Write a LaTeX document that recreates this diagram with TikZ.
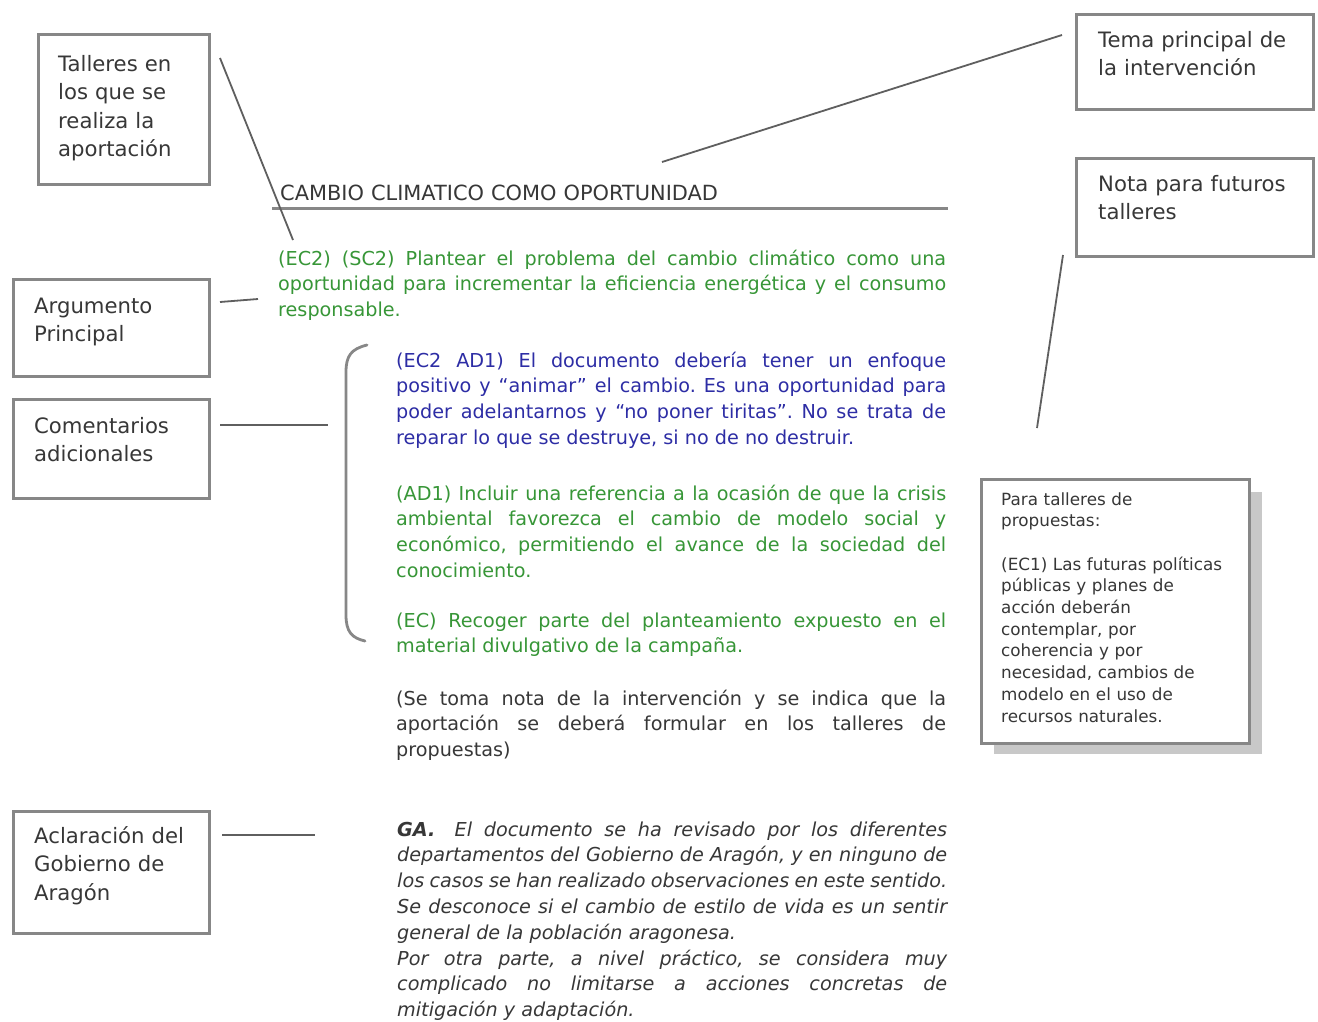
\documentclass[tikz,border=0pt]{standalone}
\usepackage{fontspec}
\setmainfont{DejaVu Sans}
\frenchspacing
\definecolor{boxgray}{RGB}{135,135,135}
\definecolor{linegray}{RGB}{95,95,95}
\definecolor{txtgray}{RGB}{55,55,55}
\definecolor{tgreen}{RGB}{55,150,55}
\definecolor{tblue}{RGB}{45,45,165}
\definecolor{shadowgray}{RGB}{200,200,200}
\tikzset{
  lbox/.style={draw=boxgray, line width=2.6pt, inner sep=0pt, anchor=north west},
  lbltext/.style={font=\fontsize{21.2}{28.5}\selectfont, text=txtgray, anchor=base west, inner sep=0pt, text width=175pt, align=left},
  body/.style={font=\fontsize{19.2}{25.8}\selectfont\frenchspacing, anchor=base west, inner sep=0pt, text width=550pt, align=justify},
  notetext/.style={font=\fontsize{16.8}{21.7}\selectfont, text=txtgray, anchor=base west, inner sep=0pt, text width=240pt, align=left},
  conn/.style={draw=linegray, line width=1.8pt},
  brace/.style={draw=boxgray, line width=2.8pt, line cap=round},
}
\begin{document}
\begin{tikzpicture}[x=1pt,y=-1pt]
\useasboundingbox[fill=white] (0,0) rectangle (1318,1021);

% label boxes
\node[lbox, minimum width=171pt, minimum height=150pt] (tall) at (37,33) {};
\node[lbltext] (tallT) at (58,71) {Talleres en\\los que se\\realiza la\\aportación};
\node[lbox, minimum width=196pt, minimum height=97pt] (arg) at (12,278) {};
\node[lbltext] (argT) at (34,313) {Argumento\\Principal};
\node[lbox, minimum width=196pt, minimum height=99pt] (com) at (12,398) {};
\node[lbltext] (comT) at (34,433) {Comentarios\\adicionales};
\node[lbox, minimum width=196pt, minimum height=122pt] (acl) at (12,810) {};
\node[lbltext] (aclT) at (34,843) {Aclaración del\\Gobierno de\\Aragón};
\node[lbox, minimum width=237pt, minimum height=95pt] (tema) at (1075,13) {};
\node[lbltext, text width=210pt] (temaT) at (1098,47) {Tema principal de\\la intervención};
\node[lbox, minimum width=237pt, minimum height=98pt] (nota) at (1075,157) {};
\node[lbltext, text width=210pt] (notaT) at (1098,191) {Nota para futuros\\talleres};

% note box with shadow
\fill[shadowgray] (994,492) rectangle (1262,754);
\node[lbox, fill=white, minimum width=268pt, minimum height=264pt] (note) at (980,478) {};
\node[notetext] (noteT) at (1001,505) {Para talleres de\\propuestas:\\[21.7pt](EC1) Las futuras políticas\\públicas y planes de\\acción deberán\\contemplar, por\\coherencia y por\\necesidad, cambios de\\modelo en el uso de\\recursos naturales.};

% title and rule
\node[body, font=\fontsize{20.9}{25.8}\selectfont, text width=500pt, align=left, text=txtgray] (title) at (280,200) {CAMBIO CLIMATICO COMO OPORTUNIDAD};
\coordinate (ruleL) at (272,208);
\coordinate (ruleR) at (948,208);
\draw[draw=boxgray, line width=3pt] (ruleL) -- (ruleR);

% body texts
\node[body, text width=668pt, text=tgreen] (arg1) at (278,265) {(EC2) (SC2) Plantear el problema del cambio climático como una\linebreak oportunidad para incrementar la eficiencia energética y el consumo\linebreak responsable.};
\node[body, text=tblue] (ad1a) at (396,367) {(EC2 AD1) El documento debería tener un enfoque\linebreak positivo y “animar” el cambio. Es una oportunidad para\linebreak poder adelantarnos y “no poner tiritas”. No se trata de\linebreak reparar lo que se destruye, si no de no destruir.};
\node[body, text=tgreen] (ad1b) at (396,500) {(AD1) Incluir una referencia a la ocasión de que la crisis\linebreak ambiental favorezca el cambio de modelo social y\linebreak económico, permitiendo el avance de la sociedad del\linebreak conocimiento.};
\node[body, text=tgreen] (ec) at (396,627) {(EC) Recoger parte del planteamiento expuesto en el\linebreak material divulgativo de la campaña.};
\node[body, text=txtgray] (se) at (396,705) {(Se toma nota de la intervención y se indica que la\linebreak aportación se deberá formular en los talleres de\linebreak propuestas)};
\node[body, text=txtgray, font=\fontsize{19.2}{25.8}\selectfont\itshape\frenchspacing] (ga) at (397,836) {{\parfillskip=0pt \textbf{GA.}\quad El documento se ha revisado por los diferentes\linebreak departamentos del Gobierno de Aragón, y en ninguno de\linebreak los casos se han realizado observaciones en este sentido.\par}Se desconoce si el cambio de estilo de vida es un sentir\linebreak general de la población aragonesa.\par Por otra parte, a nivel práctico, se considera muy\linebreak complicado no limitarse a acciones concretas de\linebreak mitigación y adaptación.};

% brace
\draw[brace] (367,345) .. controls (351,349) and (346,356) .. (346,372) -- (346,615) .. controls (346,632) and (352,638) .. (365,641);

% connectors
\coordinate (c1a) at (220,58);  \coordinate (c1b) at (293,240);
\draw[conn] (c1a) -- (c1b);
\coordinate (c2a) at (220,302); \coordinate (c2b) at (258,299);
\draw[conn] (c2a) -- (c2b);
\coordinate (c3a) at (220,425); \coordinate (c3b) at (328,425);
\draw[conn] (c3a) -- (c3b);
\coordinate (c4a) at (222,835); \coordinate (c4b) at (315,835);
\draw[conn] (c4a) -- (c4b);
\coordinate (c5a) at (1062,35); \coordinate (c5b) at (662,162);
\draw[conn] (c5a) -- (c5b);
\coordinate (c6a) at (1063,255); \coordinate (c6b) at (1037,428);
\draw[conn] (c6a) -- (c6b);
\end{tikzpicture}
\end{document}
